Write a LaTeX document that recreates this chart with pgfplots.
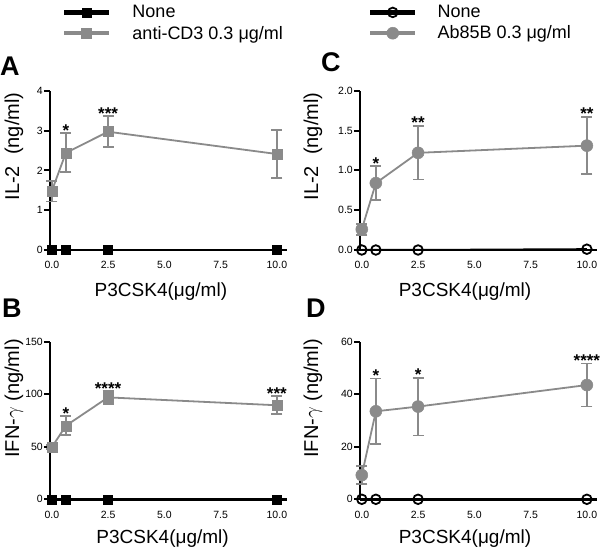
\documentclass[border=0pt]{standalone}
\usepackage{fontspec}
\setmainfont{Liberation Sans}
\usepackage{pgfplots}
\pgfplotsset{compat=1.18}
\definecolor{mygray}{RGB}{138,138,138}
\tikzset{starnode/.style={anchor=base, inner sep=0pt, font=\fontsize{17}{17}\selectfont\bfseries, yshift=-3pt}}
\pgfplotsset{
 panel/.style={
   scale only axis, width=237pt, anchor=south west,
   /pgf/number format/assume math mode=true,
   axis x line=bottom, axis y line=left,
   axis line style={-, line width=2.6pt, black},
   xmin=-0.08, xmax=10.45, ymin=0,
   xtick={0,2.5,5,7.5,10},
   xticklabel={\pgfmathprintnumber[fixed,fixed zerofill,precision=1]{\tick}},
   xtick style={draw=none},
   ytick style={line width=2pt, black},
   tick align=outside, major tick length=6pt,
   ticklabel style={font=\fontsize{10.5}{12}\selectfont},
   xticklabel style={yshift=-2pt},
   yticklabel style={inner sep=1pt},
   clip=false,
   ylabel style={font=\fontsize{20}{24}\selectfont},
   xlabel style={font=\fontsize{19}{23}\selectfont},
   xlabel={P3CSK4(μg/ml)},
   legend style={draw=none, fill=none, inner sep=0pt, outer sep=0pt,
     font=\fontsize{18}{21}\selectfont, row sep=6.6pt, column sep=21pt,
     nodes={inner sep=0pt}, cells={anchor=west}},
   legend image code/.code={\draw[##1, line width=4.5pt] (0pt,0pt) -- (45pt,0pt);
     \draw[##1] plot coordinates {(22.5pt,0pt)};},
 },
 graysq/.style={mygray, line width=1.8pt, mark=square*, mark size=5pt,
   mark options={solid, fill=mygray, draw=mygray, line width=0.5pt},
   error bars/.cd, y dir=both, y explicit,
   error bar style={line width=1.8pt, mygray},
   error mark options={rotate=90, mark size=5.5pt, line width=1.8pt, mygray}},
 graycirc/.style={mygray, line width=1.8pt, mark=*, mark size=6pt,
   mark options={solid, fill=mygray, draw=mygray, line width=0.5pt},
   error bars/.cd, y dir=both, y explicit,
   error bar style={line width=1.8pt, mygray},
   error mark options={rotate=90, mark size=5.5pt, line width=1.8pt, mygray}},
 blacksq/.style={black, line width=2pt, mark=square*, mark size=4.5pt,
   mark options={solid, fill=black, line width=0.5pt}},
 blackcirc/.style={black, line width=2pt, mark=o, mark size=4.8pt,
   mark options={solid, line width=1.8pt}},
}
\begin{document}
\begin{tikzpicture}
\path[use as bounding box] (0pt,0pt) rectangle (600pt,549pt);

% Panel A
\begin{axis}[panel, at={(50pt,299pt)}, height=159.3pt, ymax=4,
  ytick={0,1,2,3,4},
  ylabel={IL-2\ \ (ng/ml)},
  ylabel style={at={(axis description cs:-0.13,0.65)}, anchor=base},
  xlabel style={at={(axis description cs:0.468,-0.289)}, anchor=base},
  legend style={at={(0.0506,1.535)}, anchor=north west}]
\addplot[blacksq] coordinates {(0,0) (0.625,0) (2.5,0) (10,0)};
\addlegendentry{None}
\addplot[graysq] table[x=x, y=y, y error=e] {
x y e
0 1.48 0.26
0.625 2.44 0.49
2.5 2.97 0.39
10 2.41 0.6
};
\addlegendentry{anti-CD3 0.3 μg/ml}
\node[starnode] at (axis cs:0.625,2.93) {*};
\node[starnode] at (axis cs:2.5,3.36) {***};
\end{axis}

% Panel C
\begin{axis}[panel, at={(360pt,299pt)}, height=159.3pt, ymax=2,
  ytick={0,0.5,1,1.5,2},
  yticklabel={\pgfmathprintnumber[fixed,fixed zerofill,precision=1]{\tick}},
  ylabel={IL-2\ \ (ng/ml)},
  ylabel style={at={(axis description cs:-0.177,0.65)}, anchor=base},
  xlabel style={at={(axis description cs:0.443,-0.289)}, anchor=base},
  legend style={at={(0.0338,1.535)}, anchor=north west, column sep=20pt}]
\addplot[blackcirc] coordinates {(0,0) (0.625,0) (2.5,0) (10,0.01)};
\addlegendentry{None}
\addplot[graycirc] table[x=x, y=y, y error=e] {
x y e
0 0.26 0.07
0.625 0.84 0.215
2.5 1.22 0.335
10 1.31 0.36
};
\addlegendentry{Ab85B 0.3 μg/ml}
\node[starnode] at (axis cs:0.625,1.05) {*};
\node[starnode] at (axis cs:2.5,1.56) {**};
\node[starnode] at (axis cs:10,1.67) {**};
\end{axis}

% Panel B
\begin{axis}[panel, at={(50pt,49.7pt)}, height=157.6pt, ymax=150,
  ytick={0,50,100,150},
  ylabel={IFN-$\gamma$ (ng/ml)},
  ylabel style={at={(axis description cs:-0.13,0.64)}, anchor=base},
  xlabel style={at={(axis description cs:0.475,-0.279)}, anchor=base}]
\addplot[blacksq] coordinates {(0,0) (0.625,0) (2.5,0) (10,0)};
\addplot[graysq] table[x=x, y=y, y error=e] {
x y e
0 49.5 2
0.625 70 9
2.5 97 6
10 89.5 8.5
};
\node[starnode] at (axis cs:0.625,79) {*};
\node[starnode] at (axis cs:2.5,103) {****};
\node[starnode] at (axis cs:10,98) {***};
\end{axis}

% Panel D
\begin{axis}[panel, at={(360pt,49.7pt)}, height=157.6pt, ymax=60,
  ytick={0,20,40,60},
  ylabel={IFN-$\gamma$ (ng/ml)},
  ylabel style={at={(axis description cs:-0.177,0.64)}, anchor=base},
  xlabel style={at={(axis description cs:0.443,-0.279)}, anchor=base}]
\addplot[blackcirc] coordinates {(0,0) (0.625,0) (2.5,0) (10,0)};
\addplot[graycirc] table[x=x, y=y, y error=e] {
x y e
0 9.2 3.5
0.625 33.5 12.5
2.5 35.3 11
10 43.5 8.2
};
\node[starnode] at (axis cs:0.625,46) {*};
\node[starnode] at (axis cs:2.5,46.3) {*};
\node[starnode] at (axis cs:10,51.7) {****};
\end{axis}

\node[anchor=base west, inner sep=0pt, font=\fontsize{27}{30}\selectfont\bfseries] at (0pt,473pt) {A};
\node[anchor=base west, inner sep=0pt, font=\fontsize{27}{30}\selectfont\bfseries] at (2pt,231pt) {B};
\node[anchor=base west, inner sep=0pt, font=\fontsize{27}{30}\selectfont\bfseries] at (321pt,477pt) {C};
\node[anchor=base west, inner sep=0pt, font=\fontsize{27}{30}\selectfont\bfseries] at (306pt,231pt) {D};
\end{tikzpicture}
\end{document}
